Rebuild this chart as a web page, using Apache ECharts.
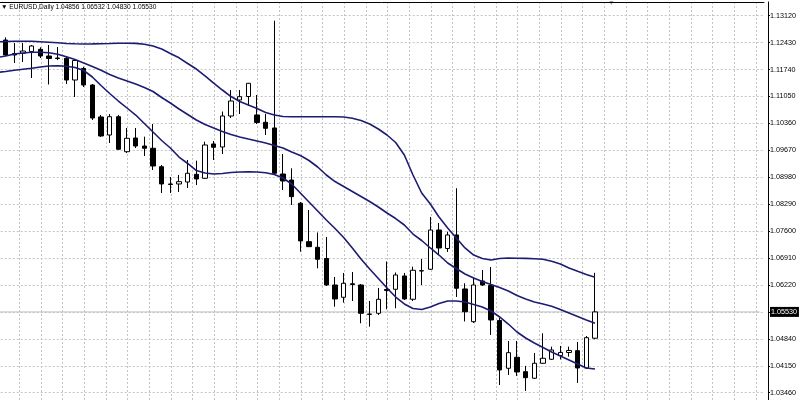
<!DOCTYPE html>
<html>
<head>
<meta charset="utf-8">
<script src="https://cdn.jsdelivr.net/npm/echarts@6/dist/echarts.min.js"></script>
<style>html,body{margin:0;padding:0;background:#fff}#c{width:800px;height:400px}</style>
</head>
<body>
<div id="c"></div>
<script>
// EURUSD Daily OHLC, oldest to newest (69 bars)
const opens  = [1.12497,1.12151,1.12156,1.12203,1.12259,1.12087,1.12036,1.12028,1.11472,1.11767,1.11344,1.10525,1.10063,1.10532,1.09635,1.09986,1.09781,1.09723,1.09251,1.08808,1.08808,1.08859,1.09056,1.08954,1.09833,1.09756,1.10550,1.10960,1.11050,1.10576,1.10389,1.10243,1.09064,1.08910,1.08314,1.07330,1.07186,1.06899,1.06220,1.05905,1.06251,1.06220,1.05465,1.05495,1.06105,1.06110,1.06451,1.05854,1.06579,1.06623,1.07629,1.07155,1.07501,1.06118,1.05280,1.06323,1.06208,1.05311,1.04086,1.04368,1.03999,1.03830,1.04214,1.04317,1.04414,1.04491,1.04537,1.04094,1.04856];
const highs  = [1.12566,1.12420,1.12420,1.12369,1.12310,1.12369,1.12318,1.12062,1.12010,1.11813,1.11370,1.10576,1.10601,1.10576,1.10243,1.10243,1.10020,1.10345,1.09295,1.08987,1.09039,1.09423,1.09405,1.09892,1.09910,1.10665,1.11216,1.11216,1.11396,1.11088,1.10601,1.12992,1.09577,1.09210,1.08347,1.08142,1.07565,1.07450,1.06425,1.06528,1.06553,1.06246,1.05810,1.06143,1.06822,1.06541,1.06528,1.06689,1.06886,1.07963,1.07809,1.07586,1.08698,1.06264,1.06425,1.06605,1.06682,1.05375,1.04786,1.04786,1.04145,1.04478,1.04983,1.04640,1.04658,1.04640,1.04760,1.04914,1.06532];
const lows   = [1.12087,1.11908,1.11934,1.11524,1.12036,1.11357,1.11985,1.11370,1.11037,1.11293,1.10448,1.10012,1.09858,1.09679,1.09602,1.09730,1.09525,1.09167,1.08577,1.08577,1.08603,1.08705,1.08782,1.08936,1.09423,1.09577,1.10499,1.10601,1.10806,1.10345,1.10063,1.09039,1.08654,1.08270,1.07073,1.07194,1.06648,1.06195,1.05664,1.05767,1.05810,1.05239,1.05152,1.05452,1.05598,1.05623,1.05836,1.05810,1.06220,1.06605,1.06989,1.07066,1.05913,1.05285,1.05247,1.06195,1.04939,1.03658,1.03915,1.03889,1.03505,1.03812,1.04196,1.04299,1.04312,1.04383,1.03710,1.04081,1.04830];
const closes = [1.12113,1.12113,1.12215,1.12344,1.12087,1.12023,1.12023,1.11472,1.11972,1.11344,1.10499,1.10038,1.10532,1.09697,1.09979,1.09781,1.09723,1.09269,1.08808,1.08795,1.08867,1.09082,1.08936,1.09807,1.09748,1.10550,1.10934,1.11045,1.11388,1.10384,1.10235,1.09082,1.08885,1.08483,1.07348,1.07202,1.06879,1.06220,1.05862,1.06264,1.06233,1.05495,1.05477,1.05854,1.06079,1.06477,1.05862,1.06597,1.06587,1.07629,1.07168,1.07501,1.06136,1.05536,1.06220,1.06220,1.05324,1.04043,1.04486,1.03991,1.03845,1.04214,1.04342,1.04555,1.04491,1.04542,1.04094,1.04870,1.05530];

// Bollinger bands: first value belongs to the bar just left of the visible window
const upperBand  = [1.12451,1.12459,1.12466,1.12466,1.12464,1.12454,1.12441,1.12425,1.12407,1.12400,1.12395,1.12397,1.12402,1.12407,1.12413,1.12413,1.12410,1.12390,1.12343,1.12267,1.12151,1.12041,1.11895,1.11754,1.11575,1.11395,1.11216,1.11049,1.10921,1.10832,1.10742,1.10639,1.10575,1.10537,1.10532,1.10532,1.10532,1.10532,1.10532,1.10532,1.10524,1.10491,1.10434,1.10345,1.10217,1.10063,1.09871,1.09550,1.09038,1.08577,1.08295,1.07962,1.07680,1.07424,1.07168,1.06988,1.06899,1.06860,1.06899,1.06911,1.06906,1.06901,1.06891,1.06881,1.06827,1.06758,1.06655,1.06571,1.06489,1.06417];
const middleBand = [1.12049,1.12087,1.12138,1.12164,1.12182,1.12182,1.12172,1.12131,1.12069,1.11997,1.11908,1.11818,1.11721,1.11613,1.11523,1.11447,1.11370,1.11280,1.11178,1.11024,1.10883,1.10729,1.10588,1.10447,1.10332,1.10242,1.10153,1.10076,1.10012,1.09960,1.09909,1.09858,1.09794,1.09730,1.09627,1.09538,1.09410,1.09243,1.09038,1.08871,1.08743,1.08615,1.08487,1.08359,1.08218,1.08064,1.07923,1.07757,1.07526,1.07360,1.07168,1.06988,1.06783,1.06642,1.06501,1.06399,1.06309,1.06232,1.06155,1.06066,1.05950,1.05861,1.05784,1.05733,1.05674,1.05592,1.05502,1.05412,1.05323,1.05238];
const lowerBand  = [1.11664,1.11690,1.11721,1.11746,1.11772,1.11805,1.11831,1.11836,1.11823,1.11792,1.11716,1.11549,1.11331,1.11126,1.10934,1.10755,1.10575,1.10358,1.10140,1.09922,1.09730,1.09499,1.09333,1.09153,1.09089,1.09064,1.09076,1.09102,1.09115,1.09120,1.09115,1.09094,1.09051,1.08961,1.08807,1.08577,1.08346,1.08116,1.07885,1.07667,1.07437,1.07168,1.06886,1.06629,1.06386,1.06143,1.05912,1.05733,1.05617,1.05592,1.05656,1.05745,1.05810,1.05810,1.05784,1.05720,1.05656,1.05553,1.05400,1.05220,1.05015,1.04861,1.04733,1.04618,1.04503,1.04400,1.04298,1.04195,1.04093,1.04067];

// price-scale tick labels
const yTicks = [1.03460,1.04150,1.04840,1.05530,1.06220,1.06910,1.07600,1.08290,1.08980,1.09670,1.10360,1.11050,1.11740,1.12430,1.13120];

const symbolName = 'EURUSD';
const periodName = 'Daily';

// ---- layout / build ----
const leadSlots = 1;      // bar partly hidden at left edge
const shiftSlots = 19;    // empty chart-shift space at right
const totalSlots = leadSlots + opens.length + shiftSlots;
const categories = [];
for (let i = 0; i < totalSlots; i++) categories.push(String(i));

const candleData = [['-','-','-','-']];
for (let i = 0; i < opens.length; i++) candleData.push([opens[i], closes[i], lows[i], highs[i]]);

const last = opens.length - 1;
const lastClose = closes[last];
// horizontal bid-price line across the whole window (from the last close)
const bidLine = categories.map(() => lastClose);

// vertical dotted grid positions (in slot units)
const vGrid = [];
for (let v = 2.57; v < totalSlots - 0.5; v += 2.5) vGrid.push(+v.toFixed(2));

const FONT = 'Liberation Sans';
const gridColor = '#c4c4c4';
const bandColor = '#1c1c72';

const chart = echarts.init(document.getElementById('c'), null, {renderer: 'canvas'});
chart.setOption({
  animation: false,
  backgroundColor: '#fff',
  title: {
    text: '\u25BC ' + symbolName + ',' + periodName + ' ' +
      [opens[last], highs[last], lows[last], closes[last]].map(v => v.toFixed(5)).join(' '),
    left: 1, top: 3.5, padding: 0,
    textStyle: {fontSize: 6.6, fontWeight: 'normal', fontFamily: FONT, color: '#000'}
  },
  graphic: [{
    type: 'text', left: 608, top: 0,
    style: {text: '\u25BC', fontSize: 7, fill: '#a0a0a0', fontFamily: FONT}
  }],
  grid: {left: -7.3, right: 36.03, top: 2, bottom: 0, containLabel: false, outerBoundsMode: 'none'},
  xAxis: [
    {
      type: 'category', data: categories, boundaryGap: true, position: 'bottom',
      axisLine: {show: false, onZero: false}, axisTick: {show: false},
      axisLabel: {show: false}, splitLine: {show: false}
    },
    {
      type: 'value', min: -0.5, max: totalSlots - 0.5, position: 'top',
      axisLine: {show: true, onZero: false, lineStyle: {color: '#000', width: 1}},
      axisTick: {show: false, customValues: vGrid},
      axisLabel: {show: false, customValues: vGrid},
      splitLine: {show: true, lineStyle: {color: gridColor, type: [2, 2], width: 1}}
    }
  ],
  yAxis: {
    type: 'value', position: 'right', offset: 4,
    min: 1.03273, max: 1.13471,
    axisLine: {show: true, onZero: false, lineStyle: {color: '#000', width: 1}},
    axisTick: {show: true, length: 2, customValues: yTicks, lineStyle: {color: '#000'}},
    axisLabel: {
      customValues: yTicks, margin: 2, fontSize: 7.2, fontFamily: FONT, color: '#000',
      formatter: v => Math.abs(v - lastClose) < 1e-7 ? '{cur|' + v.toFixed(5) + '}' : v.toFixed(5),
      rich: {cur: {backgroundColor: '#000', color: '#fff', fontSize: 7.2, fontFamily: FONT, padding: [2, 2, 1, 1]}}
    },
    splitLine: {show: true, lineStyle: {color: gridColor, type: [2, 2], width: 1}}
  },
  series: [
    {
      type: 'line', xAxisIndex: 0, yAxisIndex: 0, data: bidLine, z: 1,
      showSymbol: false, silent: true, lineStyle: {color: '#c0c0c0', width: 1}
    },
    {
      type: 'candlestick', xAxisIndex: 0, yAxisIndex: 0,
      data: candleData, barWidth: 5, z: 2,
      itemStyle: {color: '#ffffff', color0: '#000000', borderColor: '#000000', borderColor0: '#000000', borderWidth: 1}
    },
    {type: 'line', xAxisIndex: 0, data: upperBand, showSymbol: false, lineStyle: {color: bandColor, width: 1.6}, z: 3},
    {type: 'line', xAxisIndex: 0, data: middleBand, showSymbol: false, lineStyle: {color: bandColor, width: 1.6}, z: 3},
    {type: 'line', xAxisIndex: 0, data: lowerBand, showSymbol: false, lineStyle: {color: bandColor, width: 1.6}, z: 3}
  ]
});
</script>
</body>
</html>
